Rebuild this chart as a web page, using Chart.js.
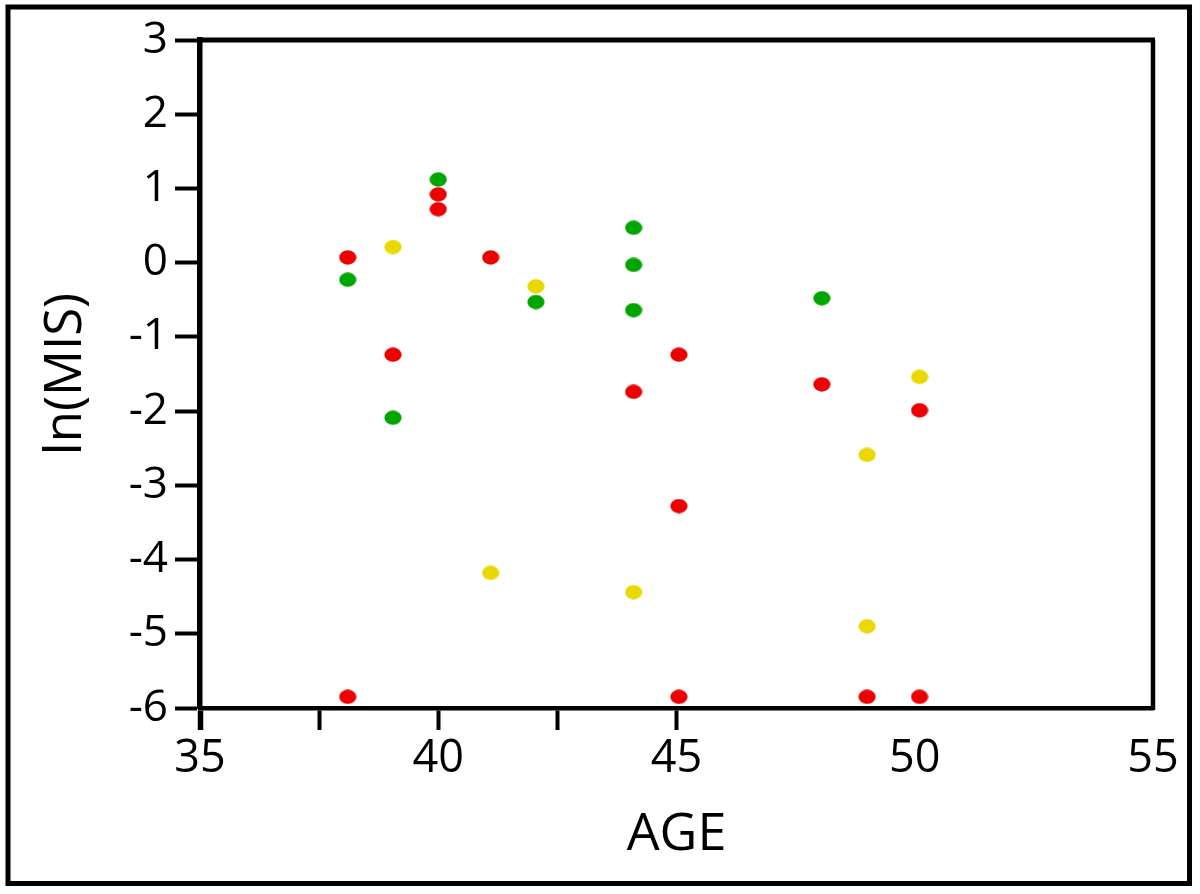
<!DOCTYPE html>
<html>
<head>
<meta charset="utf-8">
<script src="https://cdn.jsdelivr.net/npm/chart.js@4.4.1/dist/chart.umd.min.js"></script>
<style>
  html, body { margin: 0; padding: 0; background: #fff; }
  #wrap { width: 1200px; height: 894px; }
</style>
</head>
<body>
<div id="wrap"><canvas id="c" width="1200" height="894"></canvas></div>
<script>
// ---- data ----
const redAge   = [38.1, 38.1, 39.05, 40.0, 40.0, 41.1, 44.1, 45.05, 45.05, 45.05, 48.05, 49.0, 50.1, 50.1];
const redMIS   = [0.07, -5.85, -1.24, 0.92, 0.72, 0.07, -1.74, -1.24, -3.28, -5.85, -1.64, -5.85, -1.99, -5.85];
const greenAge = [38.1, 39.05, 40.0, 42.05, 44.1, 44.1, 44.1, 48.05];
const greenMIS = [-0.23, -2.09, 1.12, -0.53, 0.47, -0.03, -0.64, -0.48];
const yellowAge = [39.05, 41.1, 42.05, 44.1, 49.0, 49.0, 50.1];
const yellowMIS = [0.21, -4.18, -0.32, -4.44, -2.59, -4.90, -1.54];
const xTickLabels = ['35', '40', '45', '50', '55'];
const yTickLabels = ['3', '2', '1', '0', '-1', '-2', '-3', '-4', '-5', '-6'];

const toPoints = (xs, ys) => xs.map((x, i) => ({ x: x, y: ys[i] }));

function ellipse(color) {
  const c = document.createElement('canvas');
  c.width = 18; c.height = 15;
  const g = c.getContext('2d');
  g.fillStyle = color;
  g.beginPath();
  g.ellipse(9, 7.5, 8.6, 7.2, 0, 0, Math.PI * 2);
  g.fill();
  return c;
}

const FONT = "'Open Sans', 'Noto Sans', 'DejaVu Sans', sans-serif";

const framePlugin = {
  id: 'frame',
  beforeDraw(chart) {
    const ctx = chart.ctx;
    ctx.save();
    ctx.fillStyle = '#ffffff';
    ctx.fillRect(0, 0, chart.width, chart.height);
    ctx.restore();
  },
  afterDraw(chart) {
    const ctx = chart.ctx;
    const a = chart.chartArea;
    ctx.save();
    ctx.strokeStyle = '#000';
    ctx.lineWidth = 5;
    ctx.beginPath();
    ctx.moveTo(a.left, a.top);
    ctx.lineTo(a.right + 2, a.top);
    ctx.stroke();
    ctx.lineWidth = 4.5;
    ctx.beginPath();
    ctx.moveTo(a.right, a.top);
    ctx.lineTo(a.right, a.bottom + 2);
    ctx.stroke();
    ctx.lineWidth = 5;
    ctx.strokeRect(8, 7, chart.width - 18.5, chart.height - 17.5);
    ctx.restore();
  }
};

new Chart(document.getElementById('c'), {
  type: 'scatter',
  data: {
    datasets: [
      { label: 'red', data: toPoints(redAge, redMIS), pointStyle: ellipse('#ec0000'), backgroundColor: '#ec0000' },
      { label: 'green', data: toPoints(greenAge, greenMIS), pointStyle: ellipse('#00a600'), backgroundColor: '#00a600' },
      { label: 'yellow', data: toPoints(yellowAge, yellowMIS), pointStyle: ellipse('#e9d900'), backgroundColor: '#e9d900' }
    ]
  },
  options: {
    responsive: false,
    animation: false,
    devicePixelRatio: 1,
    layout: { padding: { top: 40, right: 47, left: 0, bottom: 0 } },
    plugins: { legend: { display: false }, tooltip: { enabled: false } },
    scales: {
      x: {
        type: 'linear',
        min: 35, max: 55,
        afterFit(s) { s.height = 186; },
        ticks: {
          stepSize: 2.5,
          autoSkip: false,
          maxRotation: 0,
          padding: 2,
          color: '#000',
          font: { family: FONT, size: 45, weight: '500' },
          callback(v) {
            const i = xTickLabels.indexOf(String(v));
            return i >= 0 ? xTickLabels[i] : '';
          }
        },
        grid: {
          drawOnChartArea: false,
          drawTicks: true,
          tickLength: 22,
          tickColor: (c) => (c.tick && c.tick.value > 45 ? 'rgba(0,0,0,0)' : '#000'),
          tickWidth: (c) => (c.tick && c.tick.value === 35 ? 5.5 : 4)
        },
        border: { display: true, color: '#000', width: 4.5 },
        title: {
          display: true,
          text: 'AGE',
          color: '#000',
          font: { family: FONT, size: 52, weight: '500' },
          padding: { top: 0, bottom: 28 }
        }
      },
      y: {
        type: 'linear',
        min: -6, max: 3,
        afterFit(s) { s.width = 200; },
        ticks: {
          stepSize: 1,
          autoSkip: false,
          padding: 7,
          color: '#000',
          font: { family: FONT, size: 44, weight: '500' },
          callback(v) {
            const i = yTickLabels.indexOf(String(v));
            return i >= 0 ? yTickLabels[i] : '';
          }
        },
        grid: {
          drawOnChartArea: false,
          drawTicks: true,
          tickLength: 25,
          tickColor: '#000',
          tickWidth: 4
        },
        border: { display: true, color: '#000', width: 5.5 },
        title: {
          display: true,
          text: 'ln(MIS)',
          color: '#000',
          font: { family: FONT, size: 51, weight: '500' },
          padding: { top: 36, bottom: 0 }
        }
      }
    }
  },
  plugins: [framePlugin]
});
</script>
</body>
</html>
